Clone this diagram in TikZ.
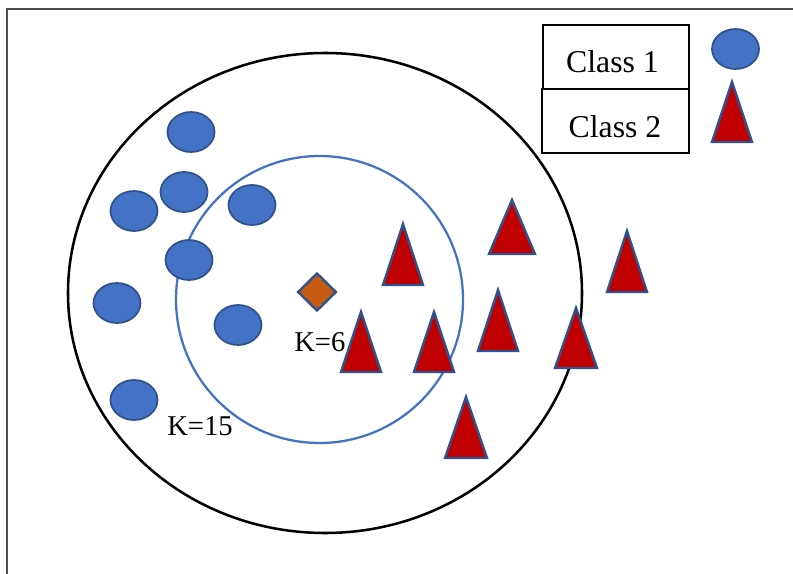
\documentclass[tikz,border=0pt]{standalone}
\usepackage{fontspec}
\setmainfont{Liberation Serif}
\usetikzlibrary{shapes.geometric}

\definecolor{dotblue}{HTML}{4472C4}
\definecolor{edgeblue}{HTML}{2F528F}
\definecolor{trired}{HTML}{C00000}
\definecolor{queryorange}{HTML}{C55A11}

\begin{document}
\begin{tikzpicture}[x=0.75pt,y=-0.75pt,
    dot/.style={fill=dotblue,draw=edgeblue,line width=1.3pt},
    tri/.style={fill=trired,draw=edgeblue,line width=1.8pt,line join=miter},
    query/.style={diamond,fill=queryorange,draw=edgeblue,line width=1.8pt,
        minimum width=29pt,minimum height=28.5pt,inner sep=0pt},
    legbox/.style={draw,line width=0.8pt,inner sep=0pt},
    classlabel/.style={anchor=base,inner sep=0pt,font=\fontsize{23.8}{28}\selectfont},
    klabel/.style={anchor=base west,inner sep=0pt,font=\fontsize{21.5}{26}\selectfont}]
    \useasboundingbox (0,0) rectangle (793,574);
    % Frame
    \draw[gray!60!black,line width=0.8pt] (7,574) -- (7,9) -- (793,9);

    % Neighbourhoods
    \draw[line width=1.9pt] (325,293) ellipse [x radius=257, y radius=240];
    \draw[dotblue,line width=1.7pt] (319.5,299.5) circle (143.5);

    % Class 1 points
    \foreach \x/\y in {191/132,184/192,134/211,252/205,189/260,117/303,238/325,134/400}
        \filldraw[dot] (\x,\y) ellipse [x radius=23.5, y radius=20];

    % Class 2 points (apex x / base y / half width / apex y)
    \foreach \x/\y/\w/\t in {403/285/20/224,512/254/23/200,627/292/20/231,361/372/20/312,
                             434/372/20/312,498/351/20/290,576/368/21/308,466/458/21/397}
        \filldraw[tri] ({\x-\w},\y) -- (\x,\t) -- ({\x+\w},\y) -- cycle;

    % Query point
    \node[query] (q) at (317,292) {};
    \node[klabel] (k6) at (294,351) {K=6};
    \node[klabel] (k15) at (167,435) {K=15};

    % Legend
    \node[legbox,minimum width=109.5pt,minimum height=48pt] (box1) at (616,57) {};
    \node[legbox,minimum width=110.25pt,minimum height=48pt] (box2) at (615.5,121) {};
    \node[classlabel] (c1) at (612.5,73) {Class 1};
    \node[classlabel] (c2) at (615,138) {Class 2};
    \filldraw[dot] (735.5,49) ellipse [x radius=23.5, y radius=20];
    \filldraw[tri] (712,142) -- (732,82) -- (752,142) -- cycle;
\end{tikzpicture}
\end{document}
